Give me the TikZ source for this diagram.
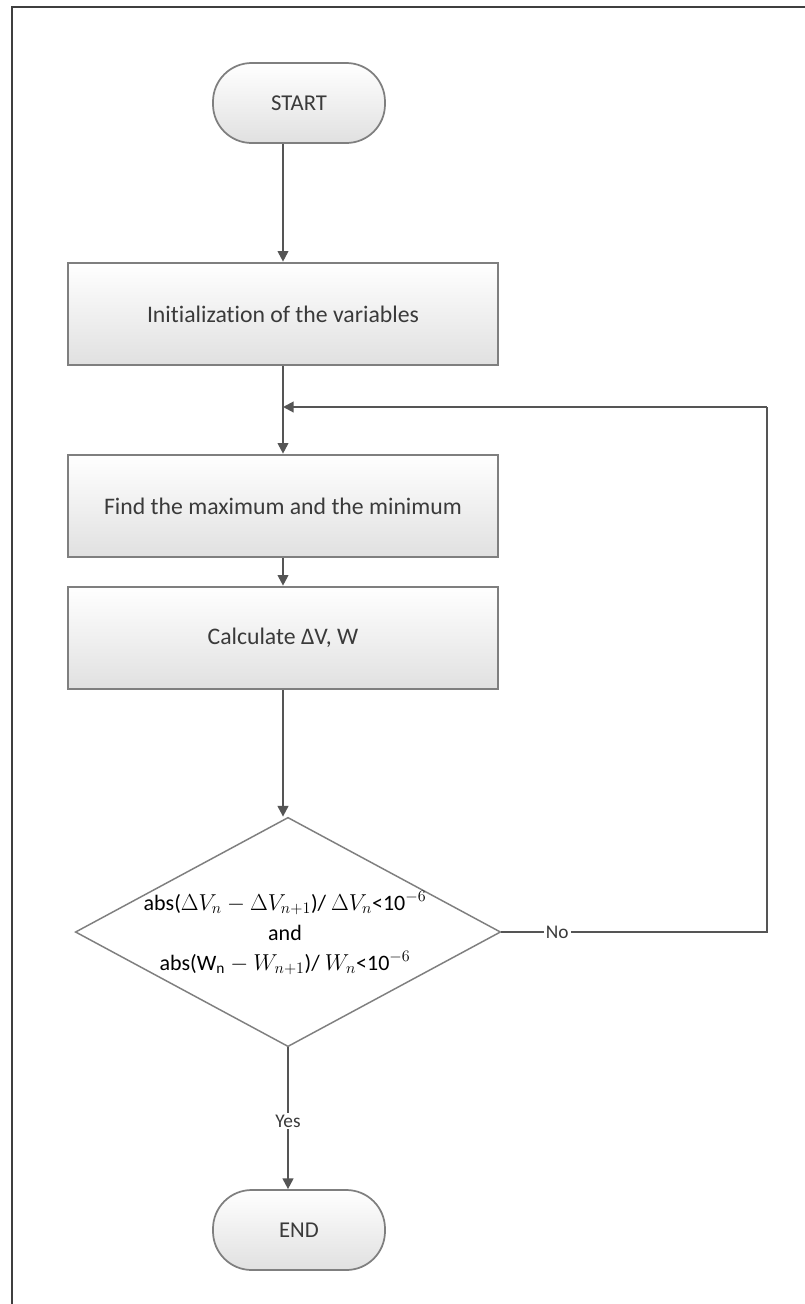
\documentclass[tikz,border=0pt]{standalone}
\usepackage{fontspec}
\setmainfont{Carlito}[Ligatures=NoCommon]
\usetikzlibrary{arrows.meta,shapes.geometric}
\definecolor{edgegray}{HTML}{7F7F7F}
\definecolor{linegray}{HTML}{555555}
\definecolor{framegray}{HTML}{3F3F3F}
\definecolor{txtgray}{HTML}{3A3A3A}
\begin{document}
\begin{tikzpicture}[x=0.75pt,y=-0.75pt,
  every node/.style={text=txtgray},
  terminal/.style={draw=edgegray, line width=1.3pt, rounded corners=29pt,
    top color=white, bottom color=black!12, minimum width=129pt, minimum height=60pt,
    inner sep=0pt, font=\fontsize{17}{20}\selectfont},
  procbox/.style={draw=edgegray, line width=1.5pt, top color=white, bottom color=black!12,
    minimum width=322pt, minimum height=77pt, inner sep=0pt, font=\fontsize{17.8}{21}\selectfont},
  decision/.style={draw=edgegray, line width=1.1pt, fill=white, diamond, aspect=1.86,
    minimum width=319pt, minimum height=172pt, inner sep=0pt},
  flow/.style={draw=linegray, line width=1.5pt, -{Triangle[length=8pt,width=8pt]}},
  flowline/.style={draw=linegray, line width=1.5pt},
  edgelabel/.style={font=\fontsize{14.5}{17}\selectfont, fill=white, inner sep=1.5pt}]

\useasboundingbox (0,0) rectangle (805,1304);
\fill[white] (0,0) rectangle (805,1304);

% outer frame (left and top edges)
\draw[framegray, line width=2.2pt] (12,1304) -- (12,7) -- (805,7);

% nodes
\node[terminal] (start) at (299,103) {START};
\node[procbox] (init) at (283,314) {Initialization of the variables};
\node[procbox] (find) at (283,506) {Find the maximum and the minimum};
\node[procbox] (calc) at (283,638) {Calculate ΔV, W};
\node[decision] (cond) at (288,932) {};
\node[align=center, text=black, font=\fontsize{16.5}{22.5}\selectfont] (condtext) at (285,933)
  {abs($\Delta V_n-\Delta V_{n+1}$)/ $\Delta V_n$<10$^{-6}$\\
   and\\
   abs(W$_{\mathrm{n}}-W_{n+1}$)/ $W_n$<10$^{-6}$};
\node[terminal] (end) at (299,1230) {END};

% loop-back points
\coordinate (loopR) at (767,407);
\coordinate (join) at (283,407);

% connectors
\draw[flow] (start.south -| init.north) -- (init.north);
\draw[flowline] (init.south) -- (join);
\draw[flow] (join) -- (find.north);
\draw[flow] (find.south) -- (calc.north);
\draw[flow] (calc.south) -- (calc.south |- cond.north);
\draw[flowline] (cond.east) -- node[edgelabel, pos=0.21] {No} (cond.east -| loopR) -- (loopR);
\draw[flow] (loopR) -- (join);
\draw[flow] (cond.south) -- node[edgelabel, pos=0.52] {Yes} (cond.south |- end.north);

\end{tikzpicture}
\end{document}
